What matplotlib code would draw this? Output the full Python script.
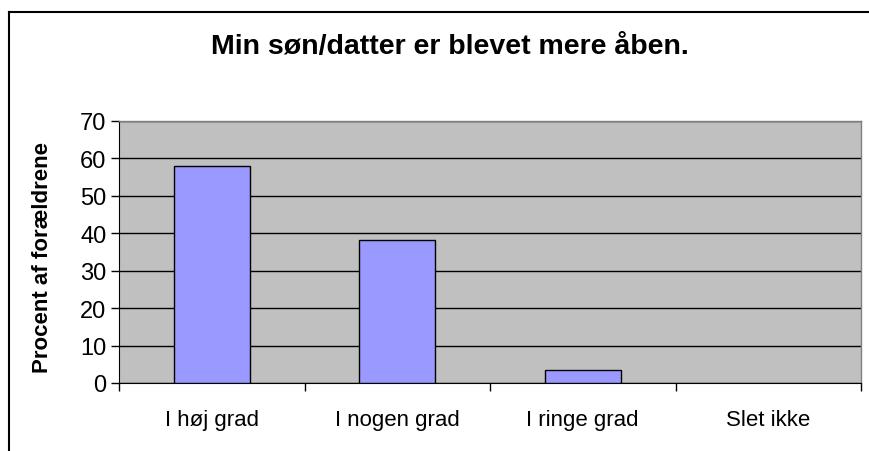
import matplotlib
matplotlib.use("Agg")
import matplotlib.pyplot as plt
from matplotlib.lines import Line2D
import numpy as np

categories = ["I høj grad", "I nogen grad", "I ringe grad", "Slet ikke"]
values = [58.0, 38.3, 3.6, 0.0]
yticks = [0, 10, 20, 30, 40, 50, 60, 70]
title = "Min søn/datter er blevet mere åben."
ylabel = "Procent af forældrene"

plt.rcParams['font.family'] = ['Liberation Sans', 'DejaVu Sans']

W, H = 869, 452
fig = plt.figure(figsize=(W / 100, H / 100), dpi=100)
fig.patch.set_facecolor("white")

# outer chart border (left and top visible)
fig.add_artist(Line2D([8.5 / W, 8.5 / W], [1 - 12.5 / H, -0.1], transform=fig.transFigure,
                      color="black", lw=1.5))
fig.add_artist(Line2D([8.5 / W, 1.1], [1 - 12.5 / H, 1 - 12.5 / H], transform=fig.transFigure,
                      color="black", lw=1.5))

ax = fig.add_axes([119 / W, 1 - 384 / H, (861 - 119) / W, (384 - 122) / H])
ax.set_facecolor("#C0C0C0")

x = np.arange(len(categories))
lws = [1.0 if v > 0 else 0.0 for v in values]
ax.bar(x, values, width=0.41, color="#9999FF", edgecolor="black", linewidth=lws, zorder=3)

ax.set_xlim(-0.5, len(categories) - 0.5)
ax.set_ylim(0, 70)
ax.set_yticks(yticks)
ax.set_yticklabels([str(t) for t in yticks], fontsize=17)
ax.yaxis.grid(True, color="black", linewidth=1.0, zorder=1)
ax.set_axisbelow(True)

ax.set_xticks(x)
ax.set_xticklabels(categories, fontsize=16)
ax.set_xticks(np.arange(len(categories) + 1) - 0.5, minor=True)
ax.tick_params(axis="x", which="major", length=0, pad=19)
ax.tick_params(axis="x", which="minor", length=6, width=1.0, color="black")
ax.tick_params(axis="y", length=6, width=1.0, color="black", pad=3)

for s in ["top", "right"]:
    ax.spines[s].set_color("#808080")
    ax.spines[s].set_linewidth(1.0)
ax.spines["left"].set_color("black")
ax.spines["bottom"].set_color("black")

ax.set_ylabel(ylabel, fontsize=16, fontweight="bold")
ax.yaxis.set_label_coords(-(119 - 53) / (861 - 119), (384 - 258) / (384 - 122))
fig.text(450 / W, 1 - 47 / H, title, fontsize=20.5, fontweight="bold", ha="center", va="center")

fig.savefig("out.png", dpi=100)
